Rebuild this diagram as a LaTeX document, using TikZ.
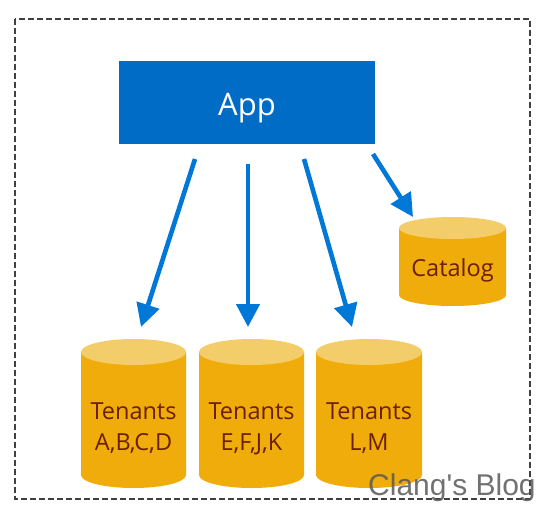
\documentclass[tikz,border=0pt]{standalone}
\usepackage{fontspec}
\setmainfont{Open Sans}
\newfontfamily\wmfont{Liberation Sans}
\usetikzlibrary{arrows.meta}
\definecolor{appblue}{HTML}{016CC6}
\definecolor{arrowblue}{HTML}{0078D7}
\definecolor{cylbody}{HTML}{EFAC0A}
\definecolor{cyltop}{HTML}{F3CD6A}
\definecolor{cyltext}{HTML}{6B1E00}
\tikzset{
  flow/.style={draw=arrowblue,line width=4.6pt,-{Triangle[length=23pt,width=23pt]}},
  apptext/.style={text=white,font=\fontsize{31pt}{36pt}\selectfont,inner sep=0pt,anchor=base},
  cyllabel/.style={text=cyltext,font=\fontsize{23.5pt}{31pt}\selectfont,align=center,inner sep=0pt},
  catlabel/.style={text=cyltext,font=\fontsize{23.5pt}{31pt}\selectfont,inner sep=0pt,anchor=base},
  watermark/.style={text=black!65,opacity=.85,font=\wmfont\fontsize{30pt}{32pt}\selectfont,inner sep=0pt,anchor=base west},
  frame/.style={draw=black!75,line width=1.4pt,dash pattern=on 6pt off 3pt}
}
% centre x, half width, top centre y, bottom centre y, ry
\newcommand{\drumshape}[5]{%
  \fill[cylbody] (#1-#2,#3) -- (#1-#2,#4) arc[start angle=180,end angle=0,x radius=#2,y radius=#5] -- (#1+#2,#3) -- cycle;
  \fill[cyltop] (#1,#3) ellipse[x radius=#2,y radius=#5];
}
\begin{document}
\begin{tikzpicture}[x=1pt,y=-1pt]
\useasboundingbox (0,0) rectangle (545,511);
\fill[white] (0,0) rectangle (545,511);
\draw[frame] (15,19) rectangle (530,499);
\node[fill=appblue,minimum width=256pt,minimum height=83pt,inner sep=0pt,outer sep=0pt] (app) at (247,102) {};
\node[apptext] (applabel) at (247,115) {App};
\drumshape{133.5}{52.5}{352}{475}{13}
\drumshape{251.5}{52.5}{352}{475}{13}
\drumshape{369}{53}{352}{475}{13}
\drumshape{452.5}{53.5}{228}{295}{11}
\node[cyllabel] (ta) at (133.5,429) {\strut Tenants\\\strut A,B,C,D};
\node[cyllabel] (tb) at (251.5,429) {\strut Tenants\\\strut E,F,J,K};
\node[cyllabel] (tc) at (369,429) {\strut Tenants\\\strut L,M};
\node[catlabel] (cat) at (452.5,276) {Catalog};
\coordinate (s1) at (195,159); \coordinate (e1) at (141,327);
\coordinate (s2) at (248,164); \coordinate (e2) at (248,327);
\coordinate (s3) at (304,159); \coordinate (e3) at (352,327);
\coordinate (s4) at (373,154); \coordinate (e4) at (413,217);
\draw[flow] (s1) -- (e1);
\draw[flow] (s2) -- (e2);
\draw[flow] (s3) -- (e3);
\draw[flow] (s4) -- (e4);
\node[watermark] (wm) at (368,495) {Clang's Blog};
\end{tikzpicture}
\end{document}
